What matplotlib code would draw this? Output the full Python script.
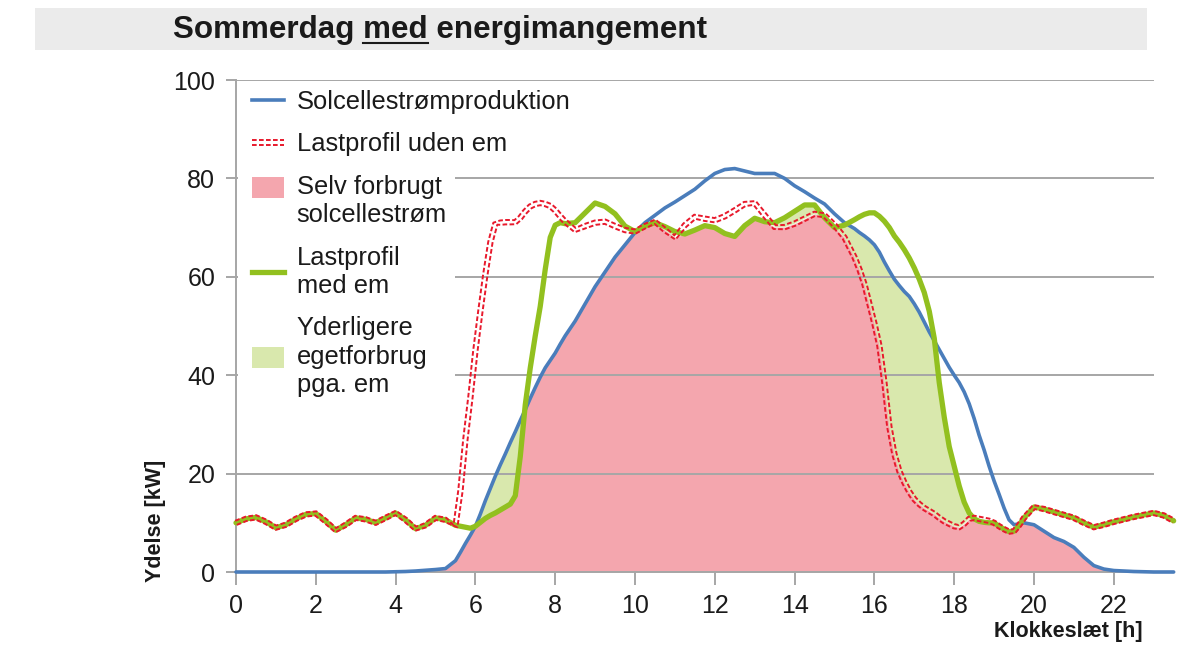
import numpy as np
import matplotlib
matplotlib.use("Agg")
import matplotlib.pyplot as plt
from matplotlib.lines import Line2D
from matplotlib.patches import Patch, Rectangle
from matplotlib.legend_handler import HandlerBase

plt.rcParams["font.family"] = ["Liberation Sans", "DejaVu Sans"]

# hours of the day: quarter hours, eighth hours where the curves are steep
hours = np.concatenate([
    np.arange(0, 5.3, 0.25),
    np.arange(5.5, 8.3, 0.125),
    np.arange(8.5, 15.3, 0.25),
    np.arange(15.5, 19.8, 0.125),
    np.arange(20.0, 23.6, 0.25),
])

solar = [
    0, 0, 0, 0, 0, 0, 0, 0, 0, 0, 0, 0, 0, 0, 0, 0,
    0.05, 0.1, 0.2, 0.35, 0.5, 0.7,
    # 5.5 - 8.25
    2.3, 4.0, 5.8, 7.5, 9.3, 11.8, 14.5, 17.0, 19.5, 21.8, 24.0, 26.3,
    28.5, 30.8, 33.0, 35.3, 37.5, 39.6, 41.5, 43.0, 44.5, 46.3, 48.0,
    # 8.5 - 15.25
    51.0, 54.5, 58.0, 61.0, 64.0, 66.5, 69.0, 71.0, 72.5, 74.0, 75.2, 76.5,
    77.8, 79.5, 81.0, 81.8, 82.0, 81.5, 81.0, 81.0, 81.0, 80.0, 78.5, 77.3,
    76.0, 74.8, 72.8, 71.0,
    # 15.5 - 19.75
    69.8, 69.0, 68.3, 67.5, 66.5, 65.0, 63.0, 61.2, 59.5, 58.2, 57.0, 56.0,
    54.5, 52.8, 50.8, 48.8, 47.0, 45.2, 43.4, 41.6, 40.0, 38.5, 36.6, 34.2,
    31.2, 27.8, 24.8, 21.5, 18.5, 15.8, 13.0, 10.6, 9.6, 9.8, 10.0,
    # 20 - 23.5
    9.6, 8.3, 7.0, 6.2, 5.0, 3.0, 1.3, 0.6, 0.3, 0.2, 0.1, 0.05, 0, 0, 0,
]

load_without_em = [
    10.0, 10.8, 11.1, 10.2, 9.0, 9.6, 10.8, 11.7, 11.9, 10.3, 8.5, 9.6,
    11.0, 10.7, 10.0, 11.0, 12.0, 10.6, 8.8, 9.5, 11.0, 10.6,
    # 5.5 - 8.25
    9.3, 16.5, 27.0, 35.5, 45.0, 53.0, 60.5, 67.0, 70.8, 71.0, 71.1, 71.1,
    71.1, 72.0, 73.3, 74.3, 74.8, 75.0, 74.8, 74.4, 73.5, 72.3, 71.2,
    # 8.5 - 15.25
    69.5, 70.3, 71.0, 71.2, 70.3, 69.5, 69.2, 70.3, 71.2, 69.5, 68.0, 70.5,
    72.2, 71.8, 71.5, 72.3, 73.5, 74.8, 75.0, 72.5, 70.1, 70.1, 70.8, 71.8,
    72.8, 72.5, 70.5, 68.0,
    # 15.5 - 19.75
    64.0, 61.5, 58.5, 54.5, 50.5, 46.0, 38.5, 29.5, 24.0, 20.5, 18.2, 16.3,
    14.8, 13.8, 13.0, 12.4, 11.8, 11.0, 10.3, 9.8, 9.3, 9.1, 9.8, 10.8,
    11.0, 10.8, 10.6, 10.4, 10.0, 9.3, 8.7, 8.2, 8.3, 9.5, 11.0,
    # 20 - 23.5
    13.2, 12.8, 12.2, 11.6, 11.0, 10.0, 9.1, 9.6, 10.2, 10.7, 11.2, 11.6,
    12.0, 11.5, 10.4,
]

load_with_em = [
    10.0, 10.8, 11.1, 10.2, 9.0, 9.6, 10.8, 11.7, 11.9, 10.3, 8.5, 9.6,
    11.0, 10.7, 10.0, 11.0, 12.0, 10.6, 8.8, 9.5, 11.0, 10.6,
    # 5.5 - 8.25
    9.5, 9.3, 9.1, 8.9, 9.3, 10.1, 10.9, 11.5, 12.0, 12.6, 13.2, 13.8,
    15.5, 23.5, 34.0, 41.5, 48.0, 54.0, 61.5, 68.0, 70.5, 71.0, 70.8,
    # 8.5 - 15.25
    71.0, 73.0, 75.0, 74.3, 72.8, 70.3, 69.2, 70.3, 71.0, 70.2, 69.2, 68.7,
    69.5, 70.4, 70.0, 68.8, 68.2, 70.4, 71.9, 71.2, 71.0, 72.0, 73.3, 74.6,
    74.6, 72.0, 70.0, 70.5,
    # 15.5 - 19.75
    71.6, 72.2, 72.7, 73.0, 73.0, 72.3, 71.3, 70.0, 68.3, 67.0, 65.5, 63.8,
    61.8, 59.5, 56.8, 53.0, 47.5, 38.5, 31.5, 25.5, 21.5, 17.5, 14.2, 12.0,
    10.8, 10.3, 10.1, 10.0, 10.0, 9.3, 8.7, 8.2, 8.3, 9.5, 11.0,
    # 20 - 23.5
    13.2, 12.8, 12.2, 11.6, 11.0, 10.0, 9.1, 9.6, 10.2, 10.7, 11.2, 11.6,
    12.0, 11.5, 10.4,
]

x_ticks = list(range(0, 23, 2))
y_ticks = [0, 20, 40, 60, 80, 100]

blue = "#4a7dbb"
red = "#e8192c"
green = "#92c01f"
pink = "#f4a6ae"
light_green = "#d9e8ad"
grid_gray = "#a6a6a6"
dark = "#1a1a1a"

solar = np.array(solar)
red_load = np.array(load_without_em)
green_load = np.array(load_with_em)

fig = plt.figure(figsize=(12, 6.69), dpi=100)
ax = fig.add_axes([236 / 1200, 97 / 669, 917.7 / 1200, 492 / 669])
ax.set_xlim(0, 23)
ax.set_ylim(0, 100)

# title bar
fig.patches.append(Rectangle((35 / 1200, 1 - 50 / 669), 1112 / 1200, 42 / 669,
                             transform=fig.transFigure, facecolor="#ebebeb",
                             edgecolor="none", zorder=0))
title_x, title_y = 173 / 1200, 1 - 38 / 669
fig.text(title_x, title_y, "Sommerdag med energimangement", fontsize=22.6,
         fontweight="bold", color=dark, va="baseline", ha="left")
renderer = fig.canvas.get_renderer()
probe1 = fig.text(0, 0, "Sommerdag med", fontsize=22.6, fontweight="bold")
probe2 = fig.text(0, 0, "med", fontsize=22.6, fontweight="bold")
w_all = probe1.get_window_extent(renderer).width / 1200
w_med = probe2.get_window_extent(renderer).width / 1200
probe1.remove()
probe2.remove()
ul_y = 1 - 42.5 / 669
fig.add_artist(Line2D([title_x + w_all - w_med, title_x + w_all], [ul_y, ul_y],
                      transform=fig.transFigure, color=dark, lw=1.5))

# self consumed solar power and the extra part from energy management
pink_top = np.minimum(solar, np.minimum(red_load, green_load))
green_top = np.minimum(solar, np.maximum(red_load, green_load))
ax.fill_between(hours, 0, pink_top, color=pink, lw=0, zorder=1, clip_on=False)
ax.fill_between(hours, pink_top, green_top,
                where=(green_load > red_load) | (hours < 8),
                interpolate=True, color=light_green, lw=0, zorder=1, clip_on=False)

ax.plot(hours, solar, color=blue, lw=2.6, zorder=3, clip_on=False,
        solid_capstyle="round", solid_joinstyle="round")
ax.plot(hours, green_load, color=green, lw=3.8, zorder=4, clip_on=False,
        solid_capstyle="round", solid_joinstyle="round")


def offset_path(x, y, d_px):
    pts = ax.transData.transform(np.column_stack([x, y]))
    dx = np.gradient(pts[:, 0])
    dy = np.gradient(pts[:, 1])
    n = np.hypot(dx, dy)
    shifted = pts + d_px * np.column_stack([-dy / n, dx / n])
    return ax.transData.inverted().transform(shifted)


# hollow dashed line for the load profile without em
for side in (-2.2, 2.2):
    p = offset_path(hours, red_load, side)
    ax.plot(p[:, 0], p[:, 1], color=red, lw=1.4, ls=(0, (2.4, 1.2)),
            zorder=5, clip_on=False)

# axes styling
ax.set_axisbelow("line")
ax.yaxis.grid(True, color=grid_gray, lw=1.4)
ax.set_xticks(x_ticks)
ax.set_yticks(y_ticks)
for s in ("top", "right"):
    ax.spines[s].set_visible(False)
for s in ("left", "bottom"):
    ax.spines[s].set_color(grid_gray)
    ax.spines[s].set_linewidth(1.4)
ax.tick_params(axis="both", colors=grid_gray, labelcolor=dark,
               labelsize=18, width=1.4)
ax.tick_params(axis="y", length=7, pad=8)
ax.tick_params(axis="x", length=9, pad=7)

fig.text(156 / 1200, 1 - 582 / 669, "Ydelse [kW]", rotation=90, fontsize=15.5,
         fontweight="bold", ha="center", va="bottom", color=dark)
fig.text(1143 / 1200, 1 - 632 / 669, "Klokkeslæt [h]", fontsize=15.5,
         fontweight="bold", ha="right", va="center", color=dark)

# white box behind legend
ax.add_patch(Rectangle((0.002, (572 - 440) / 492), (455 - 238) / 917.7,
                       0.99 - (572 - 440) / 492, transform=ax.transAxes,
                       facecolor="white", edgecolor="none", zorder=1.8))


class HollowLineHandler(HandlerBase):
    def create_artists(self, legend, orig_handle, xdescent, ydescent,
                       width, height, fontsize, trans):
        y = height / 2 - ydescent
        arts = []
        for dy in (-1.6, 1.6):
            ln = Line2D([-xdescent, -xdescent + width], [y + dy, y + dy],
                        color=red, lw=1.4, ls=(0, (2.4, 1.2)))
            ln.set_transform(trans)
            arts.append(ln)
        return arts


class TopPatchHandler(HandlerBase):
    def create_artists(self, legend, orig_handle, xdescent, ydescent,
                       width, height, fontsize, trans):
        r = Rectangle((-xdescent, -ydescent + 0.55 * fontsize), width, height,
                      facecolor=orig_handle.get_facecolor(), edgecolor="none",
                      transform=trans)
        return [r]


red_handle = Line2D([], [], color=red)
pink_handle = Patch(facecolor=pink, edgecolor="none")
handles = [
    Line2D([], [], color=blue, lw=2.6),
    red_handle,
    pink_handle,
    Line2D([], [], color=green, lw=3.8),
    Patch(facecolor=light_green, edgecolor="none"),
]
labels = [
    "Solcellestrømproduktion",
    "Lastprofil uden em",
    "Selv forbrugt\nsolcellestrøm",
    "Lastprofil\nmed em",
    "Yderligere\negetforbrug\npga. em",
]
leg = ax.legend(handles, labels, loc="upper left",
                bbox_to_anchor=((252 - 236) / 917.7, (572 - 90) / 492),
                frameon=False, borderaxespad=0, borderpad=0, fontsize=18.4,
                handlelength=1.25, handleheight=0.85, handletextpad=0.5,
                labelspacing=0.72,
                handler_map={red_handle: HollowLineHandler(),
                             pink_handle: TopPatchHandler()})
leg.set_zorder(6)
for t in leg.get_texts():
    t.set_linespacing(1.23)
    t.set_color(dark)

fig.savefig("out.png", dpi=100)
